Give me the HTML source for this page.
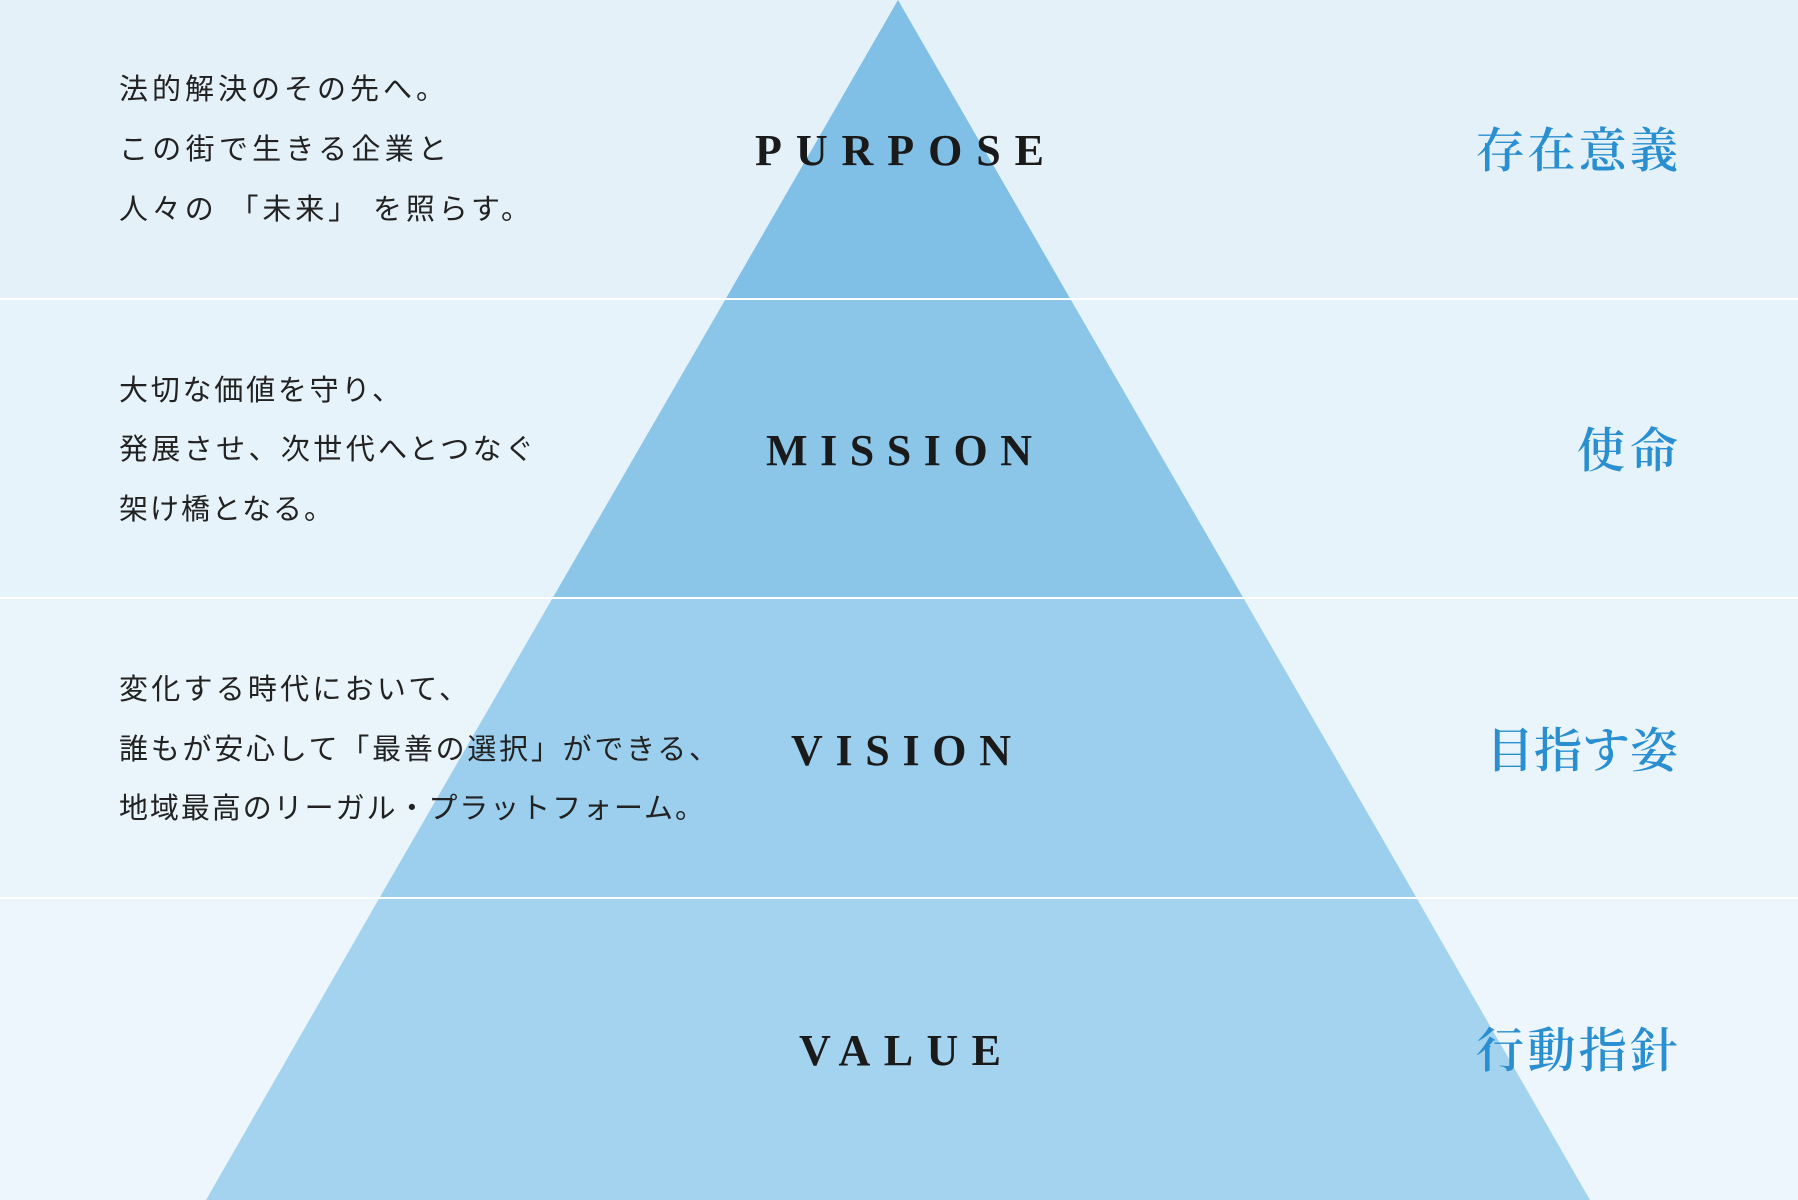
<!DOCTYPE html>
<html><head><meta charset="utf-8"><style>
html,body{margin:0;padding:0;background:#e4f1f9;}
svg{display:block}
.jp{font-family:"Liberation Sans","Noto Sans CJK JP",sans-serif;font-size:29px;fill:#222;}
.en{font-family:"Liberation Serif",serif;font-weight:bold;font-size:44px;fill:#1a1a1a;}
.rt{font-family:"Liberation Serif","Noto Serif CJK JP",serif;font-size:48px;font-weight:600;fill:#2a8fd0;}
</style></head><body>
<svg width="1798" height="1200" viewBox="0 0 1798 1200" xmlns="http://www.w3.org/2000/svg">
<rect x="0" y="0" width="1798" height="299" fill="#e4f1f9"/>
<rect x="0" y="299" width="1798" height="299" fill="#e7f3fa"/>
<rect x="0" y="598" width="1798" height="300" fill="#eaf4fb"/>
<rect x="0" y="898" width="1798" height="302" fill="#edf6fc"/>
<polygon points="898,0 1070.4,299 725.6,299" fill="#80c0e6"/>
<polygon points="725.6,299 1070.4,299 1243.4,598 552.6,598" fill="#8bc6e9"/>
<polygon points="552.6,598 1243.4,598 1416.6,898 379.4,898" fill="#9bcfed"/>
<polygon points="379.4,898 1416.6,898 1590,1200 206,1200" fill="#a3d3ef"/>
<rect x="0" y="298" width="1798" height="2" fill="#ffffff"/>
<rect x="0" y="597" width="1798" height="2" fill="#ffffff"/>
<rect x="0" y="897" width="1798" height="2" fill="#ffffff"/>

<text class="jp" x="119" y="99" textLength="326" lengthAdjust="spacing">法的解決のその先へ。</text>
<text class="jp" x="119" y="159" textLength="328" lengthAdjust="spacing">この街で生きる企業と</text>
<text class="jp" x="119" y="219" textLength="411" lengthAdjust="spacing">人々の 「未来」 を照らす。</text>

<text class="jp" x="119" y="400" textLength="282" lengthAdjust="spacing">大切な価値を守り、</text>
<text class="jp" x="119" y="459" textLength="415" lengthAdjust="spacing">発展させ、次世代へとつなぐ</text>
<text class="jp" x="119" y="519" textLength="214" lengthAdjust="spacing">架け橋となる。</text>

<text class="jp" x="119" y="699" textLength="349" lengthAdjust="spacing">変化する時代において、</text>
<text class="jp" x="119" y="759" textLength="599" lengthAdjust="spacing">誰もが安心して「最善の選択」ができる、</text>
<text class="jp" x="119" y="818" textLength="585" lengthAdjust="spacing">地域最高のリーガル・プラットフォーム。</text>

<text class="en" x="755" y="165" textLength="289" lengthAdjust="spacing">PURPOSE</text>
<text class="en" x="766" y="465" textLength="266" lengthAdjust="spacing">MISSION</text>
<text class="en" x="791" y="765" textLength="220" lengthAdjust="spacing">VISION</text>
<text class="en" x="799" y="1065" textLength="202" lengthAdjust="spacing">VALUE</text>

<text class="rt" x="1476" y="167" textLength="202" lengthAdjust="spacing">存在意義</text>
<text class="rt" x="1577" y="467" textLength="101" lengthAdjust="spacing">使命</text>
<text class="rt" x="1486" y="767" textLength="192" lengthAdjust="spacing">目指す姿</text>
<text class="rt" x="1476" y="1067" textLength="202" lengthAdjust="spacing">行動指針</text>
</svg>
</body></html>
